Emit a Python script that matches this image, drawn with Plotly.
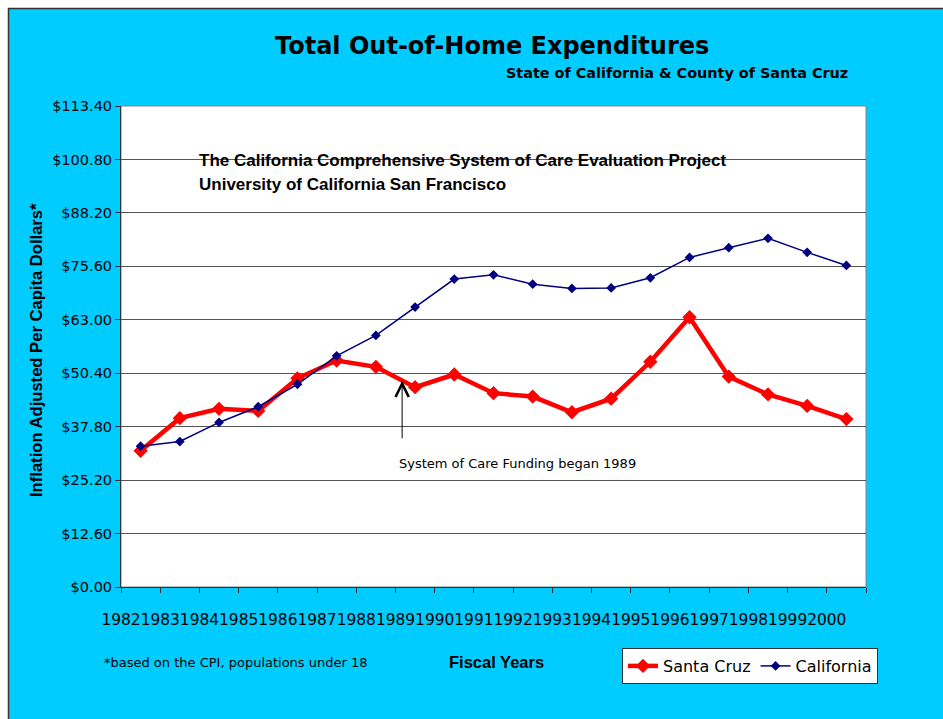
import plotly.graph_objects as go

years = ["1982", "1983", "1984", "1985", "1986", "1987", "1988", "1989", "1990", "1991",
         "1992", "1993", "1994", "1995", "1996", "1997", "1998", "1999", "2000"]
santa_cruz = [32.1, 39.8, 42.0, 41.5, 49.2, 53.4, 51.9, 47.1, 50.1, 45.7,
              44.9, 41.2, 44.4, 53.1, 63.6, 49.6, 45.4, 42.7, 39.6]
california = [33.2, 34.3, 38.8, 42.5, 47.8, 54.5, 59.3, 66.0, 72.6, 73.6,
              71.4, 70.4, 70.5, 72.9, 77.7, 80.0, 82.2, 78.9, 75.8]
y_ticks = [0.0, 12.6, 25.2, 37.8, 50.4, 63.0, 75.6, 88.2, 100.8, 113.4]
y_tick_text = ["$%.2f" % v for v in y_ticks]

W, H = 943, 719
# plot area in window pixels
L, R, T, B = 121, 866, 106, 587


def px(x):
    return (x - L) / (R - L)


def py(y):
    return (B - y) / (B - T)


n = len(years)
xs = list(range(n))

fig = go.Figure()
fig.add_trace(go.Scatter(
    x=xs, y=santa_cruz, name="Santa Cruz", mode="lines+markers",
    line=dict(color="#FF0000", width=4.5),
    marker=dict(symbol="diamond", size=11, color="#FF0000"),
))
fig.add_trace(go.Scatter(
    x=xs, y=california, name="California", mode="lines+markers",
    line=dict(color="#000080", width=1.5),
    marker=dict(symbol="diamond", size=7.5, color="#000080"),
))

shapes = [
    # cyan chart area with dark top / left border
    dict(type="rect", xref="paper", yref="paper", layer="below",
         x0=px(8.5), x1=px(990), y0=py(8.5), y1=py(760),
         fillcolor="#00CCFF", line=dict(color="#333333", width=1.5)),
    # white plot area
    dict(type="rect", xref="paper", yref="paper", layer="below",
         x0=0, x1=1, y0=0, y1=1,
         fillcolor="#FFFFFF", line=dict(color="#808080", width=1)),
    # white text box
    dict(type="rect", xref="paper", yref="paper", layer="between",
         x0=px(192), x1=px(846), y0=py(198), y1=py(146),
         fillcolor="#FFFFFF", line=dict(width=0)),
]

annotations = [
    dict(text="<b>Total Out-of-Home Expenditures</b>", xref="paper", yref="paper",
         x=px(492), y=py(46), xanchor="center", yanchor="middle", showarrow=False,
         font=dict(family="DejaVu Sans", size=24, color="#000000")),
    dict(text="<b>State of California & County of Santa Cruz</b>", xref="paper", yref="paper",
         x=px(850), y=py(73), xanchor="right", yanchor="middle", showarrow=False,
         font=dict(family="DejaVu Sans", size=14.4, color="#000000")),
    dict(text="<b>Inflation Adjusted Per Capita Dollars*</b>", xref="paper", yref="paper",
         x=px(36), y=py(350), xanchor="center", yanchor="middle", showarrow=False,
         textangle=-90, font=dict(family="Liberation Sans", size=16.6, color="#000000")),
    dict(text="<b>The California Comprehensive System of Care Evaluation Project</b>",
         xref="paper", yref="paper", x=px(197), y=py(160), xanchor="left", yanchor="middle",
         showarrow=False, font=dict(family="Liberation Sans", size=17, color="#000000")),
    dict(text="<b>University of California San Francisco</b>",
         xref="paper", yref="paper", x=px(197), y=py(184), xanchor="left", yanchor="middle",
         showarrow=False, font=dict(family="Liberation Sans", size=17, color="#000000")),
    dict(text="", xref="x", yref="y", axref="x", ayref="y",
         x=6.67, y=48.6, ax=6.67, ay=34.7, showarrow=True,
         arrowhead=5, arrowsize=2.6, arrowwidth=1, arrowcolor="#000000", standoff=0),
    dict(text="System of Care Funding began 1989", xref="paper", yref="paper",
         x=px(397), y=py(463), xanchor="left", yanchor="middle", showarrow=False,
         font=dict(family="DejaVu Sans", size=13, color="#000000")),
    dict(text="*based on the CPI, populations under 18", xref="paper", yref="paper",
         x=px(102), y=py(662), xanchor="left", yanchor="middle", showarrow=False,
         font=dict(family="DejaVu Sans", size=13, color="#000000")),
    dict(text="<b>Fiscal Years</b>", xref="paper", yref="paper",
         x=px(496), y=py(662), xanchor="center", yanchor="middle", showarrow=False,
         font=dict(family="Liberation Sans", size=16.5, color="#000000")),
]

fig.update_layout(
    width=W, height=H,
    margin=dict(l=L, r=W - R, t=T, b=H - B, pad=0),
    paper_bgcolor="#FFFFFF",
    plot_bgcolor="#FFFFFF",
    shapes=shapes,
    annotations=annotations,
    showlegend=True,
    legend=dict(orientation="h", x=px(622), y=py(648), xanchor="left", yanchor="top",
                bgcolor="#FFFFFF", bordercolor="#333333", borderwidth=1,
                font=dict(family="DejaVu Sans", size=16, color="#000000")),
    xaxis=dict(range=[-0.5, n - 0.5], tickmode="array",
               tickvals=[i - 0.5 for i in range(n + 1)], ticktext=years + [""],
               tickangle=0,
               ticks="outside", ticklen=5, tickcolor="#333333", showgrid=False,
               showline=True, linecolor="#333333", linewidth=1, zeroline=False,
               ticklabelstandoff=14,
               tickfont=dict(family="DejaVu Sans", size=15.4, color="#000000")),
    yaxis=dict(range=[0, 113.4], tickmode="array", tickvals=y_ticks, ticktext=y_tick_text,
               ticks="outside", ticklen=5, tickcolor="#333333", showgrid=True,
               gridcolor="#555555", gridwidth=1, showline=True, linecolor="#333333",
               linewidth=1, zeroline=False,
               tickfont=dict(family="DejaVu Sans", size=14.5, color="#000000")),
)

fig.write_html(
    "out.html",
    config={"displayModeBar": False},
    post_script="document.body.style.margin='0';document.body.style.overflow='hidden';",
)
